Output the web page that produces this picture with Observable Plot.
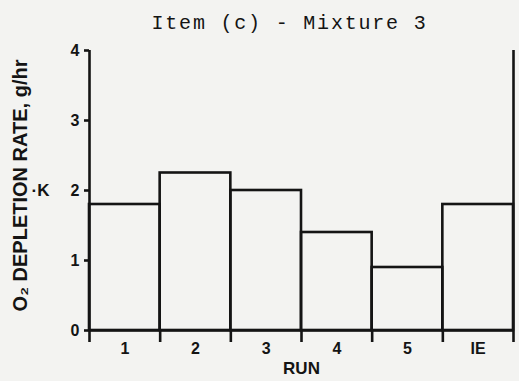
<!DOCTYPE html>
<html>
<head>
<meta charset="utf-8">
<script src="https://cdn.jsdelivr.net/npm/d3@7"></script>
<script src="https://cdn.jsdelivr.net/npm/@observablehq/plot@0.6"></script>
<style>
  html, body { margin: 0; padding: 0; background: #f3f3f1; }
</style>
</head>
<body>
<div id="chart"></div>
<script>
const title = "Item (c) - Mixture 3";
const runs = ["1", "2", "3", "4", "5", "IE"];
const rates = [1.8, 2.25, 2.0, 1.4, 0.9, 1.8];
const yTicks = [0, 1, 2, 3, 4];
const yLabel = "O\u2082 DEPLETION RATE, g/hr";
const kLabel = "\u00b7K";
const xLabel = "RUN";

const data = runs.map((r, i) => ({ run: r, i, rate: rates[i] }));
const bounds = d3.range(0, runs.length + 1);
const mids = runs.map((_, i) => i + 0.5);
const ink = "#141414";
const sw = 2.6;

const svg = Plot.plot({
  width: 519,
  height: 381,
  marginLeft: 89,
  marginRight: 6,
  marginTop: 50,
  marginBottom: 51,
  x: { domain: [0, runs.length] },
  y: { domain: [0, 4] },
  style: {
    background: "#f3f3f1",
    color: ink,
    fontFamily: "'Liberation Sans', Arial, sans-serif",
    fontWeight: "bold",
    overflow: "visible"
  },
  marks: [
    Plot.rectY(data, { x1: "i", x2: d => d.i + 1, y: "rate", fill: "none", stroke: ink, strokeWidth: sw }),
    Plot.ruleX([0], { stroke: ink, strokeWidth: sw }),
    Plot.ruleX([runs.length], { stroke: ink, strokeWidth: sw }),
    Plot.ruleY([0], { stroke: ink, strokeWidth: sw }),
    Plot.axisY({ ticks: yTicks, tickFormat: d3.format("d"), tickSize: 5, tickPadding: 5, fontSize: 16, fontWeight: "bold", strokeWidth: sw, label: null }),
    Plot.axisX({ ticks: bounds, tickFormat: () => "", tickSize: 12, strokeWidth: sw, label: null }),
    Plot.axisX({ ticks: mids, tickFormat: d => runs[Math.floor(d)], tickSize: 0, tickPadding: 12, fontSize: 16, fontWeight: "bold", label: null }),
    Plot.text([title], { frameAnchor: "top", dx: -12, dy: -22, lineAnchor: "bottom", fontFamily: "'Liberation Mono', monospace", fontSize: 20, fontWeight: "normal", fill: ink }),
    Plot.text([yLabel], { frameAnchor: "left", dx: -63, dy: -5, rotate: -90, lineAnchor: "bottom", textAnchor: "middle", fontSize: 20, fontWeight: "bold", fill: ink }),
    Plot.text([kLabel], { frameAnchor: "left", dx: -40, textAnchor: "end", fontSize: 17, fontWeight: "bold", fill: ink }),
    Plot.text([xLabel], { frameAnchor: "bottom", dy: 43, lineAnchor: "bottom", fontSize: 17, fontWeight: "bold", fill: ink })
  ]
});

d3.select(svg).selectAll("text")
  .filter(function () { return this.textContent === title; })
  .style("letter-spacing", "1.8px");

document.getElementById("chart").appendChild(svg);
</script>
</body>
</html>
